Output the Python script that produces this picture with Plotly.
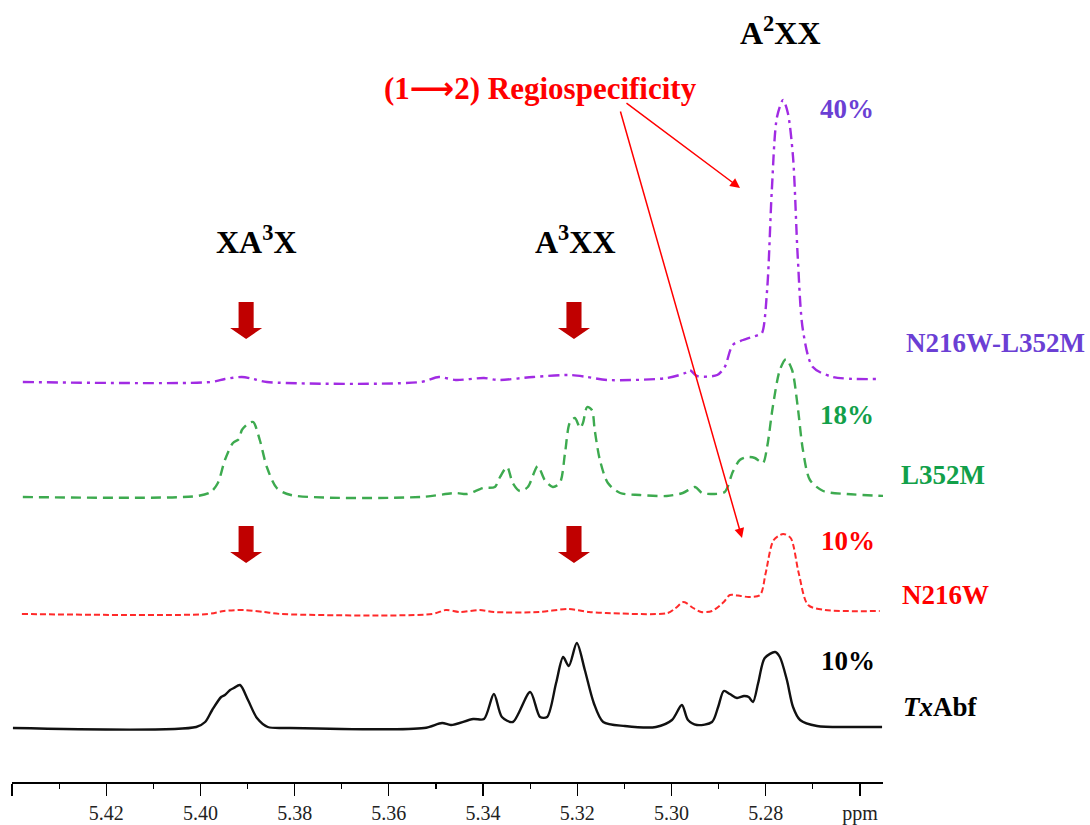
import plotly.graph_objects as go

# ---------------- data ----------------
# TxAbf (black, solid)
txabf_ppm = [5.4398, 5.4009, 5.3990, 5.3975, 5.3956, 5.3948, 5.3937, 5.3929, 5.3916, 5.3899,
             5.3880, 5.3857, 5.3810, 5.3525, 5.3487, 5.3468, 5.3421, 5.3398, 5.3377, 5.3360,
             5.3337, 5.3300, 5.3279, 5.3264, 5.3245, 5.3230, 5.3218, 5.3201, 5.3184, 5.3165,
             5.3145, 5.3099, 5.3033, 5.2999, 5.2978, 5.2965, 5.2946, 5.2914, 5.2901, 5.2889,
             5.2876, 5.2861, 5.2846, 5.2836, 5.2827, 5.2816, 5.2802, 5.2780, 5.2770, 5.2755,
             5.2742, 5.2727, 5.2691, 5.2621, 5.2553]
txabf_int = [0, 1, 6, 18, 31, 33, 38, 40, 43, 28,
             10, 1, 0, 0, 5, 3, 9, 9, 34, 11,
             6, 36, 11, 11, 45, 71, 62, 85, 58, 25,
             6, 2, 1, 8, 23, 8, 3, 6, 21, 37,
             34, 30, 32, 31, 26, 45, 70, 76, 71, 48,
             21, 8, 2, 1, 1]

# N216W (red, short dash)
n216w_ppm = [5.4379, 5.3984, 5.3950, 5.3908, 5.3865, 5.3829, 5.3508, 5.3479, 5.3449, 5.3407,
             5.3377, 5.3281, 5.3218, 5.3175, 5.3139, 5.3008, 5.2991, 5.2974, 5.2954, 5.2937,
             5.2914, 5.2889, 5.2876, 5.2853, 5.2836, 5.2812, 5.2800, 5.2783, 5.2763, 5.2747,
             5.2730, 5.2710, 5.2674, 5.2558]
n216w_int = [0, 0, 3, 4, 2, 0, 0, 4, 2, 4,
             2, 2, 5, 2, 1, 1, 6, 12, 6, 2,
             3, 12, 19, 18, 17, 19, 41, 74, 80, 76,
             41, 9, 4, 3]

# L352M (green, dash)
l352m_ppm = [5.4377, 5.4007, 5.3978, 5.3963, 5.3948, 5.3931, 5.3918, 5.3912, 5.3897, 5.3888,
             5.3874, 5.3859, 5.3838, 5.3808, 5.3532, 5.3458, 5.3434, 5.3400, 5.3375, 5.3364,
             5.3349, 5.3337, 5.3322, 5.3305, 5.3284, 5.3269, 5.3252, 5.3237, 5.3226, 5.3216,
             5.3205, 5.3194, 5.3188, 5.3179, 5.3169, 5.3163, 5.3152, 5.3135, 5.3109, 5.3067,
             5.3010, 5.2976, 5.2950, 5.2935, 5.2912, 5.2887, 5.2870, 5.2855, 5.2838, 5.2823,
             5.2806, 5.2797, 5.2785, 5.2770, 5.2757, 5.2744, 5.2732, 5.2721, 5.2706, 5.2678,
             5.2628, 5.2547]
l352m_int = [0, 1, 5, 14, 37, 54, 58, 67, 74, 75,
             57, 30, 9, 2, 0, 4, 3, 9, 10, 20,
             30, 14, 6, 10, 31, 17, 10, 14, 44, 74,
             79, 69, 74, 90, 87, 67, 37, 14, 4, 2,
             1, 4, 10, 4, 3, 5, 25, 37, 40, 39,
             34, 50, 90, 127, 138, 127, 90, 47, 17, 6,
             3, 1]

# N216W-L352M (purple, dash-dot)
dbl_ppm = [5.4377, 5.3978, 5.3948, 5.3912, 5.3888, 5.3859, 5.3532, 5.3494, 5.3458, 5.3398,
           5.3368, 5.3294, 5.3216, 5.3179, 5.3137, 5.3010, 5.2971, 5.2961, 5.2946, 5.2903,
           5.2887, 5.2870, 5.2848, 5.2816, 5.2808, 5.2797, 5.2787, 5.2776, 5.2763, 5.2753,
           5.2742, 5.2732, 5.2721, 5.2700, 5.2657, 5.2558]
dbl_int = [0, 0, 3, 5, 3, 0, 0, 5, 2, 4,
           2, 5, 7, 5, 2, 4, 9, 12, 6, 7,
           15, 37, 42, 47, 49, 92, 192, 265, 282, 269,
           225, 125, 52, 15, 5, 3]

# vertical stacking offsets (same units as intensity)
offset_txabf = 54
offset_n216w = 168
offset_l352m = 285
offset_dbl = 400

# axis ticks
tick_vals = [5.44, 5.42, 5.40, 5.38, 5.36, 5.34, 5.32, 5.30, 5.28, 5.26]
tick_text = ["", "5.42", "5.40", "5.38", "5.36", "5.34", "5.32", "5.30", "5.28", "ppm"]

# chemical shifts flagged by the block arrows
marker_ppm = [5.3903, 5.3207]

# ---------------- figure ----------------
FONT = "Liberation Serif, Times New Roman, serif"
fig = go.Figure()

def add_spec(ppm, inten, off, color, dash, width):
    fig.add_trace(go.Scatter(
        x=ppm, y=[v + off for v in inten], mode="lines",
        line=dict(color=color, dash=dash, width=width, shape="spline", smoothing=0.8),
        showlegend=False, hoverinfo="skip"))

add_spec(txabf_ppm, txabf_int, offset_txabf, "#111111", "solid", 2.4)
add_spec(n216w_ppm, n216w_int, offset_n216w, "#FF2A2A", "6px,3px", 2.0)
add_spec(l352m_ppm, l352m_int, offset_l352m, "#3DAA4F", "10px,6px", 2.4)
add_spec(dbl_ppm, dbl_int, offset_dbl, "#A12BE3", "11px,5px,3px,5px", 2.4)

# block arrows (dark red)
stem_hw, head_hw = 0.0016, 0.0034
shapes = []
for c in marker_ppm:
    for top, hs, tip in [(480, 454, 443), (256, 230, 219)]:
        path = (f"M {c-stem_hw},{top} L {c+stem_hw},{top} L {c+stem_hw},{hs} "
                f"L {c+head_hw},{hs} L {c},{tip} L {c-head_hw},{hs} L {c-stem_hw},{hs} Z")
        shapes.append(dict(type="path", xref="x", yref="y", path=path,
                           fillcolor="#C00000", line=dict(width=0)))

def px(x):
    return (x - 12) / 871

def py(y):
    return (782 - y) / 772

ann = []
def label(text, x, y, color, size):
    ann.append(dict(text=text, x=px(x), y=py(y), xref="paper", yref="paper",
                    showarrow=False, xanchor="center", yanchor="middle",
                    font=dict(family=FONT, size=size, color=color)))

ARROW = "<span style='font-family:DejaVu Sans'>\u27f6</span>"
label("<b>A<sup>2</sup>XX</b>", 780, 31, "black", 32)
label("<b>XA<sup>3</sup>X</b>", 256, 240, "black", 32)
label("<b>A<sup>3</sup>XX</b>", 575, 240, "black", 32)
label("<b>(1" + ARROW + "2) Regiospecificity</b>", 540, 88, "#FF0000", 31)
label("<b>40%</b>", 847, 109, "#6B3FD4", 27)
label("<b>N216W-L352M</b>", 995, 343, "#6B3FD4", 27)
label("<b>18%</b>", 847, 415, "#12A04A", 27)
label("<b>L352M</b>", 943, 475, "#12A04A", 27)
label("<b>10%</b>", 848, 541, "#FF0000", 27)
label("<b>N216W</b>", 945, 595, "#FF0000", 27)
label("<b>10%</b>", 848, 661, "black", 27)
label("<b><i>Tx</i>Abf</b>", 940, 707, "black", 27)

# red pointer arrows
for tip, tail in [((740, 188), (625, 102)), ((742, 538), (620, 110))]:
    ann.append(dict(text="", x=px(tip[0]), y=py(tip[1]), xref="paper", yref="paper",
                    showarrow=True, ax=tail[0] - tip[0], ay=tail[1] - tip[1],
                    arrowhead=2, arrowsize=1.3, arrowwidth=1.5, arrowcolor="#FF0000",
                    standoff=0))

fig.update_layout(
    width=1090, height=825,
    margin=dict(l=12, r=207, t=10, b=43),
    paper_bgcolor="white", plot_bgcolor="white",
    shapes=shapes, annotations=ann,
    xaxis=dict(range=[5.44, 5.2551], showgrid=False, zeroline=False,
               showline=True, linecolor="black", linewidth=1.5,
               ticks="outside", ticklen=12, tickwidth=1.2, tickcolor="black",
               tickvals=tick_vals, ticktext=tick_text,
               tickfont=dict(family=FONT, size=20, color="#222222"),
               minor=dict(dtick=0.01, ticks="outside", ticklen=5, tickwidth=1.2,
                          tickcolor="black", showgrid=False),
               automargin=False),
    yaxis=dict(visible=False, range=[0, 772], fixedrange=True),
)

fig.write_html("out.html", config={"displayModeBar": False, "staticPlot": True},
               post_script="document.body.style.margin='0';document.body.style.overflow='hidden';")
